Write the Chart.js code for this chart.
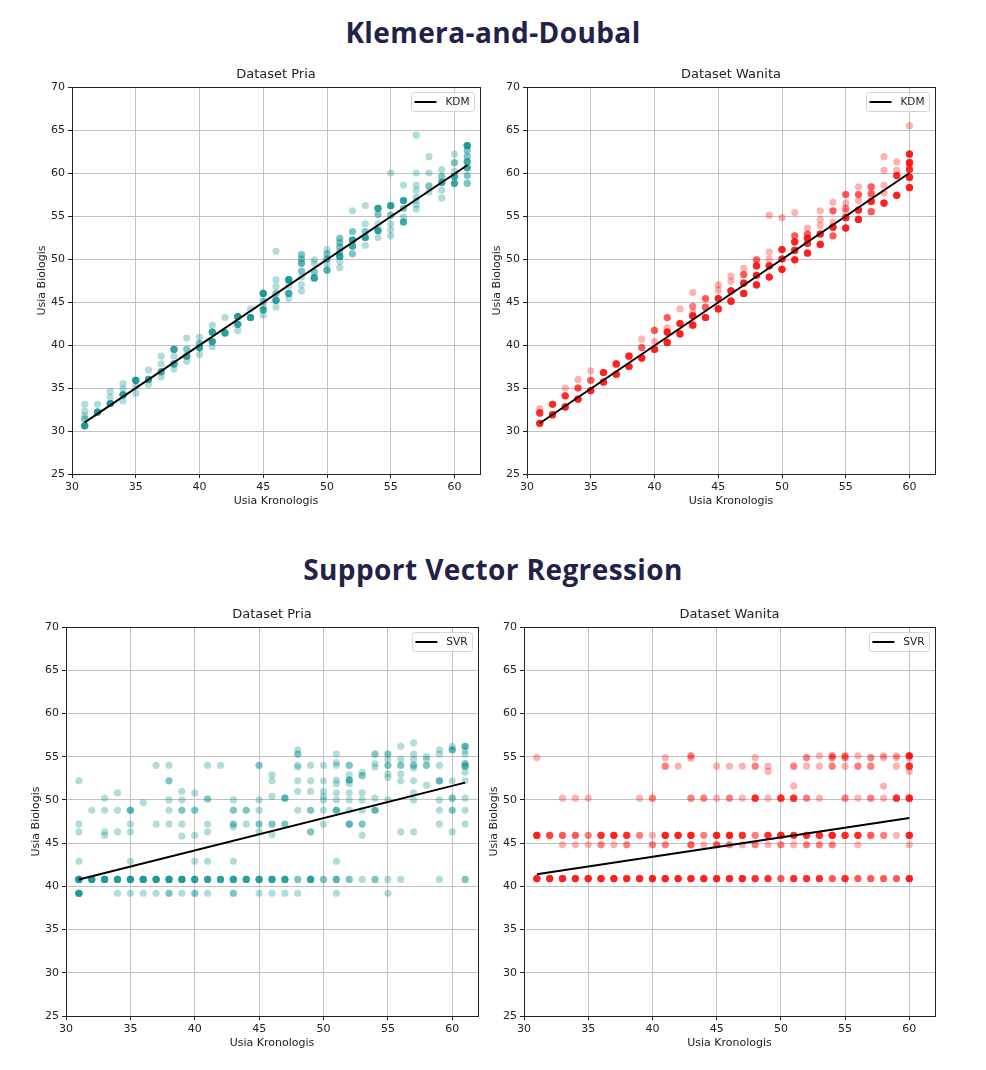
<!DOCTYPE html>
<html>
<head>
<meta charset="utf-8">
<script src="https://cdn.jsdelivr.net/npm/chart.js@4/dist/chart.umd.min.js"></script>
<style>
  body { margin: 0; background: #fff; width: 986px; height: 1070px; position: relative; overflow: hidden; }
  .heading { position: absolute; left: 0; width: 986px; text-align: center; font-family: "Open Sans", sans-serif;
             font-weight: 700; font-size: 28px; line-height: 40px; color: #222248; letter-spacing: 0.4px; }
  .panel { position: absolute; }
</style>
</head>
<body>
<div class="heading" style="top:12px">Klemera-and-Doubal</div>
<div class="heading" style="top:549px">Support Vector Regression</div>
<div class="panel" style="left:0;top:60px;width:493px;height:460px"><canvas id="kdmPria"></canvas></div>
<div class="panel" style="left:455px;top:60px;width:531px;height:460px"><canvas id="kdmWanita"></canvas></div>
<div class="panel" style="left:0;top:600px;width:493px;height:462px"><canvas id="svrPria"></canvas></div>
<div class="panel" style="left:455px;top:600px;width:531px;height:462px"><canvas id="svrWanita"></canvas></div>
<script>
// axis ticks
const xTicks = [30, 35, 40, 45, 50, 55, 60];
const yTicks = [25, 30, 35, 40, 45, 50, 55, 60, 65, 70];
const xRange = [30, 62];
const yRange = [25, 70];

// each row: chronological age -> [biological age, number of people at that value]
const kdmPriaAge = [31, 32, 33, 34, 35, 36, 37, 38, 39, 40, 41, 42, 43, 44, 45, 46,
                    47, 48, 49, 50, 51, 52, 53, 54, 55, 56, 57, 58, 59, 60, 61];
const kdmPriaBio = [
  [[33.1,1],[32.3,1],[31.8,1],[31.4,2],[30.6,6]],
  [[33.1,1],[32.2,6]],
  [[34.6,1],[33.9,1],[33.2,6]],
  [[35.5,1],[34.9,1],[34.2,5],[33.5,1]],
  [[35.9,6],[35.2,1],[34.4,1]],
  [[37.1,1],[36.0,5],[35.4,1]],
  [[38.7,1],[37.8,1],[36.9,4],[36.3,1]],
  [[39.5,5],[38.7,1],[37.8,4],[37.2,1]],
  [[40.8,1],[39.5,2],[38.7,5],[38.1,1]],
  [[40.9,1],[40.2,2],[39.7,5],[38.9,1]],
  [[42.3,1],[41.5,5],[40.4,5],[39.8,1]],
  [[43.2,1],[41.4,5]],
  [[43.3,6],[42.4,5],[41.7,1]],
  [[44.2,1],[43.2,6]],
  [[46.0,6],[45.1,2],[44.5,1],[44.1,4],[43.5,1]],
  [[50.9,1],[47.6,1],[46.8,1],[46.0,2],[45.2,5],[44.4,1]],
  [[47.6,6],[46.9,1],[46.0,4],[45.4,1]],
  [[50.5,2],[50.0,2],[49.5,3],[48.6,2],[47.9,1],[47.0,1],[46.3,1]],
  [[49.9,1],[49.5,1],[48.5,2],[47.8,5]],
  [[51.1,1],[50.6,2],[50.0,3],[49.4,1],[48.7,3]],
  [[52.4,2],[51.9,2],[51.4,2],[50.8,2],[50.3,5],[49.7,1],[49.0,1]],
  [[55.6,1],[53.2,2],[52.2,5],[51.5,4],[50.6,2]],
  [[56.2,1],[54.1,1],[53.2,2],[52.5,5],[51.6,1]],
  [[55.9,5],[55.2,2],[54.1,1],[53.3,5],[52.5,1]],
  [[60.0,1],[56.2,5],[55.1,2],[54.1,1],[53.4,1],[52.7,1]],
  [[58.6,1],[56.8,5],[55.9,2],[54.9,1],[54.3,4]],
  [[64.4,1],[60.0,1],[58.6,1],[58.0,1],[57.2,1],[56.8,1],[56.3,1],[55.8,1]],
  [[61.9,1],[60.0,1],[58.5,2],[57.8,1]],
  [[60.4,1],[59.6,2],[58.9,4],[58.0,1],[57.1,1]],
  [[62.2,1],[61.2,2],[60.2,1],[59.6,4],[58.8,4]],
  [[63.2,6],[62.6,2],[61.9,2],[61.3,4],[60.6,4],[59.7,2],[58.8,2]]
];
const kdmPriaFitAge = [31, 61];
const kdmPriaFitBio = [31.0, 60.9];

const kdmWanitaAge = [31, 32, 33, 34, 35, 36, 37, 38, 39, 40, 41, 42, 43, 44, 45,
                      46, 47, 48, 49, 50, 51, 52, 53, 54, 55, 56, 57, 58, 59, 60];
const kdmWanitaBio = [
  [[32.6,1],[32.1,5],[30.9,6]],
  [[33.1,5],[31.9,6]],
  [[35.0,1],[34.1,5],[32.8,6]],
  [[36.0,1],[35.0,4],[33.7,6]],
  [[37.0,1],[35.9,3],[34.7,6]],
  [[36.8,6],[35.7,6]],
  [[37.8,6],[36.6,6]],
  [[38.7,6],[37.5,6]],
  [[40.7,1],[39.7,3],[38.5,6]],
  [[41.7,3],[40.4,1],[39.5,6]],
  [[43.2,3],[42.0,1],[41.5,6],[40.3,6]],
  [[44.2,1],[42.5,6],[41.3,6]],
  [[46.1,1],[44.5,2],[43.8,1],[43.4,6],[42.3,6]],
  [[45.4,3],[44.4,3],[43.2,6]],
  [[47.0,1],[46.4,1],[45.4,6],[44.2,6]],
  [[48.0,1],[47.4,1],[46.3,6],[45.1,6]],
  [[48.9,1],[48.2,3],[47.2,6],[46.0,6]],
  [[49.9,3],[49.2,6],[48.1,6],[47.0,6]],
  [[55.1,1],[50.8,1],[50.0,1],[49.2,6],[47.9,6]],
  [[54.8,1],[51.1,6],[50.0,6],[48.8,6]],
  [[55.4,1],[52.7,3],[52.0,6],[51.0,6],[49.9,6]],
  [[53.6,1],[52.9,3],[52.4,6],[51.8,5],[50.7,6]],
  [[55.6,1],[54.6,1],[53.9,1],[52.9,6],[51.7,6]],
  [[56.6,1],[55.6,3],[54.3,1],[53.7,6],[52.7,3]],
  [[57.5,3],[56.5,1],[55.9,2],[55.5,1],[54.8,6],[53.6,6]],
  [[58.4,1],[57.5,3],[56.8,1],[55.7,6],[54.6,6]],
  [[58.4,3],[57.6,3],[56.7,6],[55.5,3]],
  [[61.9,1],[60.3,1],[58.6,1],[57.7,1],[56.5,6]],
  [[61.3,1],[60.3,1],[59.7,5],[57.4,6]],
  [[65.5,1],[62.2,6],[61.2,6],[60.9,1],[60.4,5],[59.5,6],[58.3,6]]
];
const kdmWanitaFitAge = [31, 60];
const kdmWanitaFitBio = [30.9, 60.0];

const svrPriaAge = kdmPriaAge;
const svrPriaBio = [
  [[52.2,1],[47.2,1],[46.3,1],[42.9,1],[40.8,7],[39.2,6]],
  [[48.8,1],[40.8,6]],
  [[50.2,1],[48.8,1],[46.3,1],[45.9,1],[40.8,6]],
  [[50.8,1],[48.8,1],[46.3,1],[40.8,6],[39.2,1]],
  [[48.8,3],[47.2,1],[46.3,1],[42.9,1],[40.8,6],[39.2,1]],
  [[49.7,1],[40.8,6],[39.2,1]],
  [[54.0,1],[47.2,1],[40.8,6],[39.2,1]],
  [[54.0,1],[52.2,2],[50.0,1],[48.8,1],[47.2,1],[40.8,6],[39.2,2]],
  [[51.0,1],[50.0,1],[48.8,2],[47.2,1],[45.8,1],[40.8,6],[39.2,1]],
  [[50.8,1],[48.8,2],[45.9,1],[42.9,1],[40.8,5],[39.2,2]],
  [[54.0,1],[50.1,2],[47.2,1],[46.3,1],[42.9,1],[40.8,5],[39.2,1]],
  [[54.0,1],[40.8,5]],
  [[50.0,1],[48.8,2],[47.2,2],[46.9,1],[42.9,1],[40.8,5],[39.2,2]],
  [[48.8,2],[47.2,1],[40.8,5]],
  [[54.0,2],[50.0,1],[48.8,1],[47.2,2],[46.3,1],[40.8,5],[39.2,1]],
  [[52.9,1],[52.2,1],[50.4,1],[47.2,2],[46.0,1],[40.8,5],[39.2,1]],
  [[50.2,3],[47.2,2],[40.8,5],[39.2,1]],
  [[55.8,1],[55.3,2],[54.0,1],[53.8,1],[52.2,1],[51.0,1],[48.8,1],[40.8,2],[39.2,1]],
  [[54.0,1],[52.2,1],[51.0,1],[48.8,2],[46.3,2],[40.8,5]],
  [[54.0,1],[52.2,1],[51.0,1],[50.4,1],[50.0,1],[48.8,1],[47.2,1],[40.8,2]],
  [[55.3,1],[54.3,1],[54.0,1],[52.3,1],[51.9,1],[50.8,1],[50.0,1],[48.8,3],[42.9,1],[40.8,3],[39.2,1]],
  [[54.0,2],[52.9,1],[52.3,3],[51.9,1],[50.8,1],[50.0,1],[48.8,1],[47.2,3],[40.8,2]],
  [[53.2,1],[52.8,2],[50.8,1],[50.0,1],[48.8,1],[47.2,2],[45.9,1],[40.8,1]],
  [[55.3,2],[54.2,1],[53.8,1],[50.2,1],[48.8,3],[40.8,2]],
  [[55.3,2],[54.7,1],[54.0,2],[53.0,1],[52.6,1],[50.0,1],[40.8,1],[39.2,1]],
  [[56.2,1],[54.7,1],[54.0,2],[53.0,1],[52.2,1],[46.3,1],[40.8,1]],
  [[56.6,1],[55.3,1],[54.7,1],[54.0,2],[53.7,1],[52.2,1],[50.8,1],[50.0,1],[46.3,1]],
  [[55.0,1],[54.7,1],[54.0,2],[51.7,1]],
  [[55.8,1],[55.3,1],[54.0,1],[52.2,3],[50.0,1],[48.8,1],[47.2,1],[40.8,1]],
  [[56.2,1],[55.8,3],[52.2,1],[50.2,2],[48.8,2],[46.3,1]],
  [[56.2,3],[55.7,1],[55.3,1],[54.2,2],[53.9,3],[53.2,1],[52.2,1],[50.2,1],[48.8,1],[47.2,1],[40.8,2]]
];
const svrPriaFitAge = [31, 61];
const svrPriaFitBio = [40.8, 52.0];

const svrWanitaAge = kdmWanitaAge;
const svrWanitaBio = [
  [[54.9,1],[45.9,6],[40.9,6]],
  [[45.9,4],[40.9,6]],
  [[50.2,1],[45.9,3],[44.8,1],[40.9,6]],
  [[50.2,1],[45.9,3],[44.8,1],[40.9,6]],
  [[50.2,1],[45.9,2],[44.8,1],[40.9,6]],
  [[45.9,5],[44.8,2],[40.9,6]],
  [[45.9,6],[44.8,1],[40.9,6]],
  [[45.9,5],[44.8,2],[40.9,6]],
  [[50.2,1],[45.9,2],[40.9,6]],
  [[50.2,2],[45.9,1],[44.8,2],[40.9,6]],
  [[54.9,1],[53.9,2],[45.9,6],[44.8,2],[40.9,6]],
  [[53.9,1],[45.9,6],[40.9,6]],
  [[55.1,2],[54.8,1],[50.2,2],[45.9,6],[44.8,3],[40.9,6]],
  [[50.2,2],[45.9,2],[44.8,1],[40.9,6]],
  [[53.9,1],[50.2,1],[45.9,6],[44.8,3],[40.9,6]],
  [[53.9,1],[50.2,2],[45.9,6],[44.8,2],[40.9,6]],
  [[53.9,1],[50.2,1],[45.9,5],[44.8,1],[40.9,6]],
  [[54.9,1],[53.9,2],[50.2,5],[45.9,2],[44.8,2],[40.9,5]],
  [[53.9,1],[53.3,1],[50.2,1],[45.9,5],[44.8,1],[40.9,5]],
  [[50.2,5],[45.9,6],[44.8,2],[40.9,3]],
  [[53.9,2],[51.6,1],[50.2,5],[45.9,5],[44.8,1],[40.9,5]],
  [[54.9,2],[53.9,1],[50.2,2],[45.9,5],[44.8,2],[40.9,5]],
  [[55.1,1],[53.9,1],[50.2,1],[45.9,5],[44.8,2],[40.9,5]],
  [[55.1,2],[54.9,2],[53.9,2],[45.9,6],[44.8,2],[40.9,3]],
  [[55.1,2],[54.9,2],[53.9,1],[50.2,2],[45.9,5],[40.9,5]],
  [[55.1,1],[53.9,2],[50.2,1],[45.9,5],[44.8,1],[40.9,3]],
  [[54.9,2],[53.9,2],[50.2,2],[45.9,3],[40.9,3]],
  [[55.1,1],[54.9,1],[51.6,1],[50.2,1],[45.9,2],[40.9,3]],
  [[55.1,1],[54.9,1],[53.9,1],[50.2,5],[45.9,1],[40.9,3]],
  [[55.1,6],[54.9,1],[53.9,5],[53.3,1],[50.2,6],[45.9,6],[44.8,1],[40.9,6]]
];
const svrWanitaFitAge = [31, 60];
const svrWanitaFitBio = [41.4, 47.9];

Chart.defaults.font.family = "'DejaVu Sans', sans-serif";
Chart.defaults.font.size = 11;
Chart.defaults.color = '#222';

// matplotlib-like frame around the plot area
const framePlugin = {
    id: 'frame',
    afterDatasetsDraw(chart) {
        const a = chart.chartArea;
        const ctx = chart.ctx;
        ctx.save();
        ctx.strokeStyle = '#222';
        ctx.lineWidth = 1;
        ctx.strokeRect(Math.round(a.left) + 0.5, Math.round(a.top) + 0.5,
                       Math.round(a.right - a.left), Math.round(a.bottom - a.top));
        ctx.restore();
    }
};

// legend box inside the upper right corner
const boxLegend = {
    id: 'boxLegend',
    afterDraw(chart) {
        const ds = chart.data.datasets.find(d => d.showLine);
        if (!ds) return;
        const ctx = chart.ctx;
        const a = chart.chartArea;
        ctx.save();
        ctx.font = "10.5px 'DejaVu Sans'";
        const tw = ctx.measureText(ds.label).width;
        const w = 39 + tw, h = 19;
        const x = a.right - 5.5 - w, y = a.top + 5.5;
        ctx.beginPath();
        ctx.roundRect(x, y, w, h, 3);
        ctx.fillStyle = 'rgba(255,255,255,0.8)';
        ctx.fill();
        ctx.strokeStyle = '#d4d4d4';
        ctx.lineWidth = 1;
        ctx.stroke();
        ctx.beginPath();
        ctx.moveTo(x + 3, y + h / 2);
        ctx.lineTo(x + 25, y + h / 2);
        ctx.strokeStyle = '#000';
        ctx.lineWidth = 2;
        ctx.stroke();
        ctx.fillStyle = '#222';
        ctx.textBaseline = 'middle';
        ctx.fillText(ds.label, x + 34, y + h / 2 + 0.5);
        ctx.restore();
    }
};

function makePlot(id, title, ages, bios, fitAge, fitBio, fitLabel, color, yAxisWidth, yTitlePad, rightPad) {
    const points = [];
    ages.forEach((age, i) => bios[i].forEach(([b, n]) => {
        for (let k = 0; k < n; k++) points.push({ x: age, y: b });
    }));
    const fit = fitAge.map((a, i) => ({ x: a, y: fitBio[i] }));

    new Chart(document.getElementById(id), {
        type: 'scatter',
        data: {
            datasets: [{
                label: fitLabel,
                data: fit,
                showLine: true,
                borderColor: '#000',
                borderWidth: 2,
                pointRadius: 0,
                order: 0
            }, {
                label: 'data',
                data: points,
                backgroundColor: color,
                borderWidth: 0,
                pointRadius: 3.6,
                order: 1
            }]
        },
        options: {
            responsive: true,
            maintainAspectRatio: false,
            animation: false,
            layout: { padding: { left: 0, right: rightPad, top: 0, bottom: 0 } },
            plugins: {
                legend: { display: false },
                tooltip: { enabled: false },
                title: {
                    display: true,
                    text: title,
                    fullSize: false,
                    font: { size: 13, weight: 'normal' },
                    color: '#222',
                    padding: { top: 7, bottom: 4.4 }
                }
            },
            scales: {
                x: {
                    type: 'linear',
                    min: xRange[0],
                    max: xRange[1],
                    afterBuildTicks: s => { s.ticks = xTicks.map(v => ({ value: v })); },
                    afterFit: s => { s.height = 46; },
                    ticks: { padding: 3, color: '#222' },
                    grid: { color: '#c2c2c2', tickColor: '#222', tickLength: 4 },
                    border: { display: false },
                    title: { display: true, text: 'Usia Kronologis', color: '#222',
                             font: { size: 11 }, padding: { top: 0, bottom: 12.4 } }
                },
                y: {
                    type: 'linear',
                    min: yRange[0],
                    max: yRange[1],
                    afterBuildTicks: s => { s.ticks = yTicks.map(v => ({ value: v })); },
                    afterFit: s => { s.width = yAxisWidth; },
                    ticks: { padding: 3, color: '#222' },
                    grid: { color: '#c2c2c2', tickColor: '#222', tickLength: 4 },
                    border: { display: false },
                    title: { display: true, text: 'Usia Biologis', color: '#222',
                             font: { size: 11 }, padding: { top: yTitlePad, bottom: 0 } }
                }
            }
        },
        plugins: [framePlugin, boxLegend]
    });
}

const teal = 'rgba(0, 139, 139, 0.3)';
const red = 'rgba(255, 0, 0, 0.3)';

makePlot('kdmPria', 'Dataset Pria', kdmPriaAge, kdmPriaBio, kdmPriaFitAge, kdmPriaFitBio, 'KDM', teal, 72, 35.4, 13);
makePlot('kdmWanita', 'Dataset Wanita', kdmWanitaAge, kdmWanitaBio, kdmWanitaFitAge, kdmWanitaFitBio, 'KDM', red, 72, 35.4, 51);
makePlot('svrPria', 'Dataset Pria', svrPriaAge, svrPriaBio, svrPriaFitAge, svrPriaFitBio, 'SVR', teal, 66, 29.4, 15);
makePlot('svrWanita', 'Dataset Wanita', svrWanitaAge, svrWanitaBio, svrWanitaFitAge, svrWanitaFitBio, 'SVR', red, 69, 32.4, 51);
</script>
</body>
</html>
